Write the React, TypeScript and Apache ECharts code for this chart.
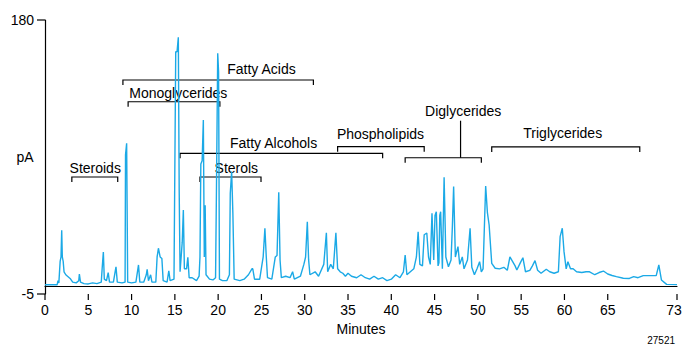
import React, { useEffect, useRef } from "react";
import * as echarts from "echarts";

// Chromatogram: retention time (minutes) and detector signal (pA)
const times: number[] = [
  0.0, 1.4, 1.5, 1.6, 1.75, 1.85, 1.93, 2.0, 2.1, 2.2, 2.4, 2.6, 2.9, 3.2, 3.6, 3.9, 3.97, 4.1, 4.5, 5.0,
  5.5, 6.0, 6.5, 6.6, 6.74, 6.85, 7.1, 7.3, 7.45, 7.9, 8.1, 8.2, 8.35, 8.9, 9.25, 9.3, 9.43, 9.55, 10.0, 10.5,
  10.8, 10.95, 11.4, 11.7, 11.8, 11.95, 12.2, 12.35, 12.8, 12.95, 13.1, 13.3, 13.5, 13.65, 14.1, 14.3, 14.45, 14.9, 15.1, 15.25,
  15.4, 15.5, 15.6, 15.85, 15.98, 16.1, 16.35, 16.5, 16.65, 17.0, 17.5, 17.8, 17.9, 18.0, 18.15, 18.29, 18.4, 18.5, 18.6, 19.0,
  19.4, 19.7, 19.8, 19.95, 20.05, 20.15, 20.5, 21.0, 21.3, 21.4, 21.56, 21.7, 21.85, 22.5, 23.0, 23.5, 23.9, 24.0, 24.2, 24.8,
  25.2, 25.4, 25.55, 25.7, 26.2, 26.6, 26.8, 27.0, 27.15, 27.3, 27.8, 28.3, 28.6, 28.8, 29.5, 29.9, 30.1, 30.3, 30.45, 30.6,
  31.2, 31.6, 32.2, 32.5, 32.65, 33.0, 33.3, 33.6, 33.8, 34.1, 34.4, 34.7, 35.0, 35.4, 36.0, 36.5, 37.0, 37.5, 38.0, 38.5,
  39.0, 39.5, 40.0, 40.5, 41.0, 41.4, 41.6, 41.8, 42.2, 42.6, 42.9, 43.1, 43.3, 43.6, 43.8, 44.1, 44.3, 44.5, 44.7, 44.9,
  45.05, 45.2, 45.4, 45.5, 45.6, 45.7, 45.9, 46.1, 46.3, 46.6, 46.9, 47.05, 47.2, 47.4, 47.7, 47.9, 48.2, 48.4, 48.8, 49.1,
  49.3, 49.6, 49.9, 50.2, 50.4, 50.6, 50.9, 51.1, 51.3, 51.6, 52.0, 52.5, 53.0, 53.4, 53.7, 54.0, 54.3, 54.5, 54.9, 55.2,
  55.5, 56.0, 56.3, 56.6, 56.9, 57.3, 57.9, 58.3, 58.8, 59.3, 59.5, 59.75, 59.95, 60.2, 60.4, 60.7, 61.0, 61.4, 62.0, 62.5,
  62.9, 63.5, 64.0, 64.5, 65.0, 65.5, 66.0, 66.8, 67.5, 68.0, 68.5, 69.1, 70.0, 70.6, 70.9, 71.2, 71.8, 73.0,
];
const signal: number[] = [
  1.2, 1.2, 4, 2.5, 17, 20, 38, 20, 17, 10, 8, 7, 5.5, 3, 2.5, 4, 8.5, 3, 2, 1.8,
  2.5, 2, 3, 12, 23.4, 5, 4, 9.4, 3, 3, 10, 13.4, 3, 2.5, 3, 88.9, 96.8, 3, 2.5, 3,
  14.6, 3, 3, 8, 11.7, 4, 8, 3, 3, 20, 25.9, 20, 19, 4, 3, 10.7, 4, 5, 158.6, 158.6,
  168.3, 65, 10, 30, 51.7, 12, 12, 19.8, 6, 6, 4, 7, 20, 82.8, 85, 112.5, 20, 55, 8, 5,
  4.5, 6, 63, 157.5, 145, 5, 4, 4, 8, 63, 77.6, 49.7, 5, 4, 5, 8, 12, 12, 5, 5,
  20, 39.4, 21, 6, 5, 20, 21, 63.7, 18, 6, 7, 6, 10, 5, 7, 15, 20, 43.8, 18, 8,
  10, 7, 15, 36.4, 10, 15, 12, 36.4, 12, 10, 9, 7, 9, 7, 6, 8, 6, 5, 7, 5,
  6, 4, 5, 8, 6, 10, 21.3, 8, 10, 12, 20, 37, 15, 14, 35, 36.2, 20, 15, 49.5, 18,
  48, 50.6, 14, 16, 48, 50.6, 12, 73.8, 20, 13.4, 18, 40, 67.5, 20, 27, 15, 20, 12, 18, 39.4,
  13, 8, 12, 16.8, 10, 12, 67.9, 50, 41.6, 15.7, 12.4, 12, 13, 11, 20, 17, 14, 11.2, 16, 19.5,
  10, 11, 14, 17.5, 11, 9, 11.7, 10, 9, 10, 33.7, 39.4, 23.6, 12, 16.8, 12, 12, 10, 9.5, 10,
  10, 8, 9.5, 10.5, 8.5, 7.5, 6.7, 5.6, 5.5, 6.7, 6, 7.4, 7.4, 7.4, 14.6, 4.5, 1.5, 1.3,
];

// Compound-class brackets (minutes / pA)
const bracketLabels: string[] = [
  "Steroids", "Monoglycerides", "Fatty Acids", "Fatty Alcohols", "Sterols", "Phospholipids", "Diglycerides", "Triglycerides",
];
const bracketStart: number[] = [3.1, 9.6, 9.0, 15.6, 17.9, 33.8, 41.6, 51.6];
const bracketEnd: number[] = [8.4, 20.2, 31.0, 39.0, 24.95, 43.8, 50.4, 68.7];
const bracketLevel: number[] = [74.0, 124.8, 139.5, 90.0, 74.0, 94.5, 87.0, 94.3];
const labelTime: number[] = [5.8, 15.4, 25.0, 26.4, 22.1, 38.75, 48.3, 59.8];
const labelLevel: number[] = [80.1, 130.7, 146.9, 97.0, 80.1, 103.0, 118.6, 103.7];
const stemTime: (number | null)[] = [null, null, null, null, null, null, 48.0, null];
const stemTop: (number | null)[] = [null, null, null, null, null, null, 112.0, null];

const xTicks: number[] = [0, 5, 10, 15, 20, 25, 30, 35, 40, 45, 50, 55, 60, 65, 73];
const yTicks: number[] = [-5, 180];

const FONT = "'Liberation Sans', Arial, Helvetica, sans-serif";

export default function App() {
  const ref = useRef<HTMLDivElement>(null);
  useEffect(() => {
    if (!ref.current) return;
    const chart = echarts.init(ref.current, null, { renderer: "svg" });
    const lineData = times.map((t, i) => [t, signal[i]]);
    const bracketData = bracketLabels.map((name, i) => ({
      name,
      value: [
        bracketStart[i],
        bracketEnd[i],
        bracketLevel[i],
        labelTime[i],
        labelLevel[i],
        stemTime[i] == null ? NaN : (stemTime[i] as number),
        stemTop[i] == null ? NaN : (stemTop[i] as number),
      ],
    }));
    const yMin = yTicks[0];
    const xMin = xTicks[0];
    const xMax = xTicks[xTicks.length - 1];
    chart.setOption({
      animation: false,
      grid: { left: 45, right: 5, top: 20, bottom: 53, containLabel: false, outerBoundsMode: "none" },
      xAxis: {
        type: "value",
        min: 0,
        max: 73,
        interval: 5,
        name: "Minutes",
        nameLocation: "middle",
        nameGap: 27,
        nameTextStyle: { color: "#000", fontSize: 14, fontFamily: FONT },
        axisLine: { lineStyle: { color: "#000", width: 1.2 } },
        axisTick: { show: false },
        axisLabel: {
          color: "#000",
          fontSize: 14,
          fontFamily: FONT,
          margin: 9,
          customValues: xTicks,
          formatter: (v: number) => (v === xMax ? "{e|" + v + "}" : String(v)),
          rich: { e: { color: "#000", fontSize: 14, fontFamily: FONT, padding: [0, 6, 0, 0] } },
        },
        splitLine: { show: false },
      },
      yAxis: {
        type: "value",
        min: -5,
        max: 180,
        axisLine: { show: true, lineStyle: { color: "#000", width: 1.2 } },
        axisTick: { show: false },
        axisLabel: { color: "#000", fontSize: 14, fontFamily: FONT, margin: 11, customValues: yTicks },
        splitLine: { show: false },
      },
      graphic: [
        {
          type: "text",
          x: 25,
          y: 157,
          style: { text: "pA", fill: "#000", fontSize: 14, fontFamily: FONT, textAlign: "center", textVerticalAlign: "middle" },
        },
        {
          type: "text",
          right: 7,
          bottom: 2,
          style: { text: "27521", fill: "#000", fontSize: 10, fontFamily: FONT },
        },
      ],
      series: [
        {
          type: "custom",
          z: 1,
          clip: false,
          coordinateSystem: "cartesian2d",
          encode: { x: [0, 1, 3], y: [2, 4] },
          data: bracketData,
          renderItem: (params: any, api: any) => {
            const s = api.coord([api.value(0), api.value(2)]);
            const e = api.coord([api.value(1), api.value(2)]);
            const lab = api.coord([api.value(3), api.value(4)]);
            const children: any[] = [
              {
                type: "polyline",
                shape: { points: [[s[0], s[1] + 5], [s[0], s[1]], [e[0], e[1]], [e[0], e[1] + 5]] },
                style: { stroke: "#000", lineWidth: 1.2, fill: null },
              },
              {
                type: "text",
                x: lab[0],
                y: lab[1],
                style: {
                  text: bracketLabels[params.dataIndex],
                  textAlign: "center",
                  textVerticalAlign: "middle",
                  fill: "#000",
                  fontSize: 14,
                  fontFamily: FONT,
                },
              },
            ];
            const st = api.value(5);
            if (Number.isFinite(st)) {
              const a = api.coord([st, api.value(2)]);
              const b = api.coord([st, api.value(6)]);
              children.push({
                type: "line",
                shape: { x1: a[0], y1: a[1], x2: b[0], y2: b[1] },
                style: { stroke: "#000", lineWidth: 1.2 },
              });
            }
            return { type: "group", children };
          },
        },
        {
          // x-axis ticks at the labelled minutes
          type: "custom",
          z: 2,
          clip: false,
          coordinateSystem: "cartesian2d",
          encode: { x: 0, y: 1 },
          data: xTicks.map((t) => [t, yMin]),
          renderItem: (_p: any, api: any) => {
            const c = api.coord([api.value(0), api.value(1)]);
            return {
              type: "line",
              shape: { x1: c[0], y1: c[1], x2: c[0], y2: c[1] + 6 },
              style: { stroke: "#000", lineWidth: 1.2 },
            };
          },
        },
        {
          // y-axis ticks at -5 and 180
          type: "custom",
          z: 2,
          clip: false,
          coordinateSystem: "cartesian2d",
          encode: { x: 0, y: 1 },
          data: yTicks.map((v) => [xMin, v]),
          renderItem: (_p: any, api: any) => {
            const c = api.coord([api.value(0), api.value(1)]);
            return {
              type: "line",
              shape: { x1: c[0] - 8, y1: c[1], x2: c[0], y2: c[1] },
              style: { stroke: "#000", lineWidth: 1.2 },
            };
          },
        },
        {
          type: "line",
          z: 3,
          data: lineData,
          showSymbol: false,
          symbol: "none",
          lineStyle: { color: "#1ba9e6", width: 1.4 },
        },
      ],
    });
    return () => chart.dispose();
  }, []);
  return (
    <div
      ref={ref}
      style={{ position: "fixed", left: 0, top: 0, width: 682, height: 347, background: "#fff" }}
    />
  );
}
